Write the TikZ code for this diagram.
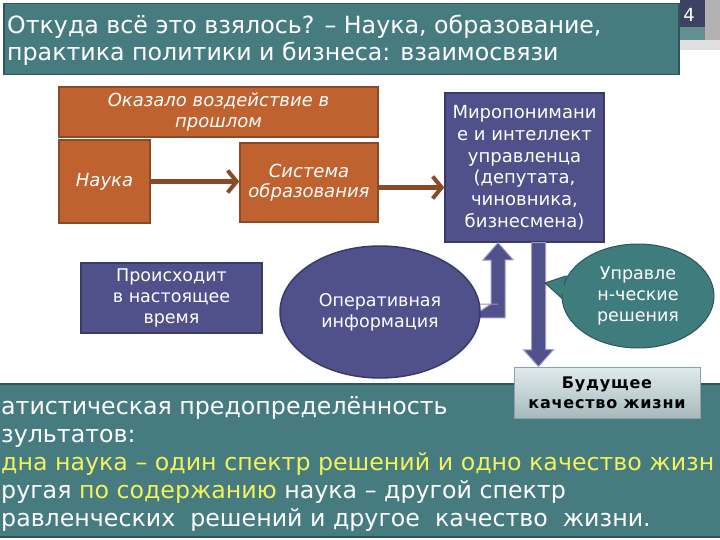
\documentclass[tikz,border=0pt]{standalone}
\usepackage{fontspec}
\setmainfont{DejaVu Sans}
\usetikzlibrary{positioning,calc,arrows.meta,shapes.geometric}
\definecolor{Sea}{HTML}{467C80}
\definecolor{SeaDark}{HTML}{2E5659}
\definecolor{Rust}{HTML}{C0622F}
\definecolor{RustDark}{HTML}{8A4A27}
\definecolor{Plum}{HTML}{50508A}
\definecolor{PlumDark}{HTML}{3A3A66}
\definecolor{PlumLine}{HTML}{9A9ACB}
\definecolor{Lagoon}{HTML}{3E7C7E}
\definecolor{Frost}{HTML}{C6DDE1}
\definecolor{FrostLine}{HTML}{8AA3A8}
\definecolor{Lemon}{HTML}{F2F25C}
\definecolor{Ink}{HTML}{3D4262}

\begin{document}
\begin{tikzpicture}[x=1pt,y=-1pt,
    rustbox/.style={draw=RustDark,line width=1.5pt,fill=Rust,text=white,align=center,
      font=\itshape\fontsize{18}{21}\selectfont},
    plumbox/.style={draw=PlumDark,line width=1.5pt,fill=Plum,text=white,align=center,
      font=\fontsize{17.5}{21}\selectfont},
    flowarrow/.style={draw=RustDark,line width=4.5pt,
      -{Straight Barb[length=9pt,width=22pt,line width=4pt]}},
    blockarrow/.style={fill=Plum,draw=PlumLine,line width=1pt},
    bandline/.style={anchor=base west,inner sep=0pt,text=white,font=\fontsize{23.7}{28}\selectfont}]
  \useasboundingbox (0,0) rectangle (720,540);
  \fill[white] (0,0) rectangle (720,540);
  \fill[Ink] (680,0) rectangle (720,27);
  \fill[Sea!85!white] (680,27) rectangle (720,40);
  \fill[black!12] (680,40) rectangle (720,50);
  \fill[black!30] (705,0) rectangle (720,40);
  \node[text=white,font=\fontsize{18}{18}\selectfont] (num) at (689,15) {4};
  \node[draw=SeaDark,line width=1.5pt,fill=Sea,anchor=north west,
    minimum width=675,minimum height=71] (title) at (3,3) {};
  \node[bandline] (head1) at (7,34) {Откуда всё это взялось? – Наука, образование,};
  \node[bandline] (head2) at (7,61) {практика политики и бизнеса: взаимосвязи};

  \node[rustbox,minimum width=319,minimum height=50] (past) at (218.5,112)
    {Оказало воздействие в\\прошлом};
  \node[rustbox,minimum width=91,minimum height=83] (sci) at (104.5,181.5) {Наука};
  \node[rustbox,minimum width=138,minimum height=79,font=\itshape\fontsize{18}{20}\selectfont]
    (edu) at (309,182.5) {Система\\образования};
  \node[plumbox,minimum width=159,minimum height=149,font=\fontsize{18}{21.7}\selectfont]
    (mir) at (524.5,167.5)
    {Миропонимани\\е и интеллект\\управленца\\(депутата,\\чиновника,\\бизнесмена)};
  \node[plumbox,minimum width=181,minimum height=70] (now) at (171.5,298)
    {Происходит\\в настоящее\\время};

  \coordinate (edu out) at ($(edu.east)+(0,5)$);
  \draw[flowarrow] (sci.east) -- (sci.east -| edu.west);
  \draw[flowarrow] (edu out) -- (edu out -| mir.west);

  \fill[Sea] (0,384) rectangle (720,537);
  \draw[SeaDark,line width=2pt] (0,384) -- (720,384);
  \draw[SeaDark,line width=1.5pt] (0,537) -- (720,537);

  \coordinate (uptip) at ($(mir.south)+(-26.5,0)$);
  \coordinate (dntip) at ($(mir.south)+(14,0)$);
  \filldraw[blockarrow] (470,304) -- (uptip |- 0,304) ++(-7,0) -- ++(0,-44) -- ++(-8,0)
    -- (uptip) -- ++(15,17) -- ++(-8,0) -- ++(0,58) -- (470,318) -- cycle;

  \node[plumbox,ellipse,minimum width=200,minimum height=132] (oper) at (380,312)
    {Оперативная\\информация};

  \node[draw=FrostLine,line width=1pt,top color=Frost!55!white,bottom color=Frost!80!black!90,
    minimum width=186,minimum height=51,align=center,
    font=\bfseries\fontsize{16}{20}\selectfont\addfontfeature{LetterSpace=5}] (fut) at (607,392.5)
    {Будущее\\качество жизни};
  \filldraw[blockarrow] ($(dntip)+(-7,0)$) -- ++(0,107) -- ++(-8,0) -- (dntip |- fut.north)
    -- ++(15,-17) -- ++(-8,0) -- ++(0,-107) -- cycle;

  \filldraw[draw=SeaDark,line width=1pt,fill=Lagoon] (566,276) -- (545,283) -- (566,302) -- cycle;
  \node[draw=SeaDark,line width=1pt,fill=Lagoon,ellipse,text=white,align=center,
    minimum width=152,minimum height=104,font=\fontsize{17.5}{21}\selectfont] (upr) at (638,296)
    {Управле\\н-ческие\\решения};
  \fill[Lagoon] (563,278) -- (553,284) -- (566,298) -- cycle;

  \foreach \y/\txt [count=\i] in {414/{атистическая предопределённость},
      442/{зультатов:},
      470/{\color{Lemon}дна наука – один спектр решений и одно качество жизн},
      498/{ругая \textcolor{Lemon}{по содержанию} наука – другой спектр},
      526/{равленческих\ \ решений и другое\ \ качество\ \ жизни.}}
    \node[bandline] (line\i) at (1,\y) {\txt};
\end{tikzpicture}
\end{document}
